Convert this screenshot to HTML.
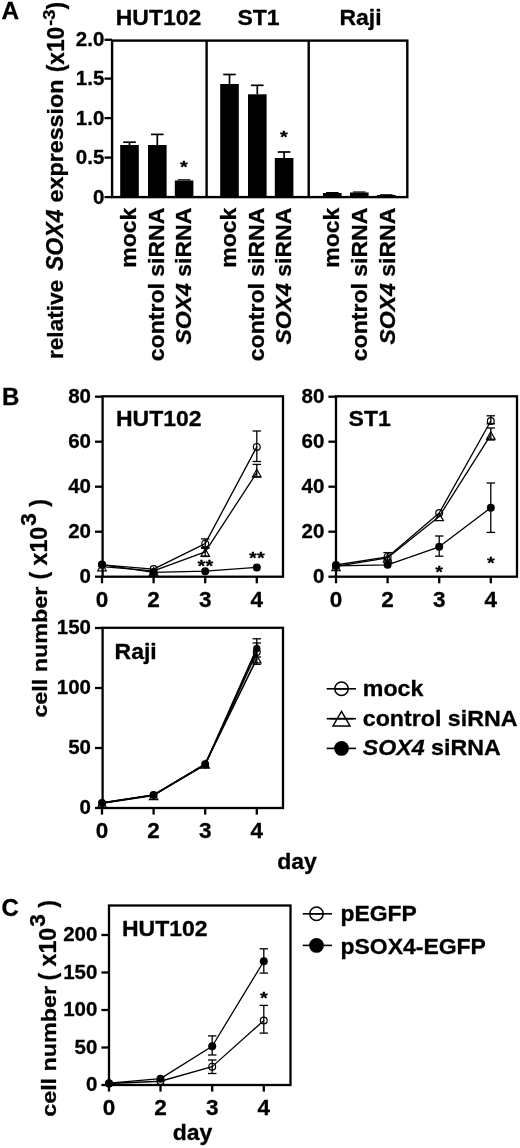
<!DOCTYPE html>
<html lang="en"><head><meta charset="utf-8"><title>Figure</title>
<style>html,body{margin:0;padding:0;background:#fff}svg{display:block;filter:blur(0.45px)}text{font-family:"Liberation Sans",Arial,Helvetica,sans-serif;font-weight:bold;fill:#000;stroke:#000;stroke-width:0.3px;stroke-linejoin:round}.it{font-style:italic}</style></head><body>
<svg width="520" height="1148" viewBox="0 0 520 1148">
<rect x="0" y="0" width="520" height="1148" fill="#fff"/>
<text x="1.5" y="19" font-size="24.3" text-anchor="start">A</text>
<text x="63.4" y="359" font-size="21.6" textLength="79.2" lengthAdjust="spacingAndGlyphs" transform="rotate(-90 63.4 359)">relative</text>
<text x="63.3" y="271.0" font-size="23" class="it" textLength="61.5" lengthAdjust="spacingAndGlyphs" transform="rotate(-90 63.3 271.0)">SOX4</text>
<text x="63.4" y="202.4" font-size="21.6" textLength="122.8" lengthAdjust="spacingAndGlyphs" transform="rotate(-90 63.4 202.4)">expression</text>
<text x="63.8" y="72.3" font-size="23" textLength="45.5" lengthAdjust="spacingAndGlyphs" transform="rotate(-90 63.8 72.3)">(x10</text>
<text x="55" y="25.8" font-size="16.6" textLength="16.3" lengthAdjust="spacingAndGlyphs" transform="rotate(-90 55 25.8)">-3</text>
<text x="63.8" y="9.6" font-size="23" textLength="7.6" lengthAdjust="spacingAndGlyphs" transform="rotate(-90 63.8 9.6)">)</text>
<rect x="112.1" y="40.6" width="295.20000000000005" height="156.5" fill="none" stroke="#000" stroke-width="2.4"/>
<line x1="206.6" y1="40.6" x2="206.6" y2="197.1" stroke="#000" stroke-width="2.4" stroke-linecap="butt"/>
<line x1="308.7" y1="40.6" x2="308.7" y2="197.1" stroke="#000" stroke-width="2.4" stroke-linecap="butt"/>
<line x1="104.5" y1="39.8" x2="112.1" y2="39.8" stroke="#000" stroke-width="2.3" stroke-linecap="butt"/>
<text x="104.3" y="45.89999999999999" font-size="20.5" text-anchor="end">2.0</text>
<line x1="104.5" y1="78.6" x2="112.1" y2="78.6" stroke="#000" stroke-width="2.3" stroke-linecap="butt"/>
<text x="104.3" y="85.39999999999999" font-size="20.5" text-anchor="end">1.5</text>
<line x1="104.5" y1="118.1" x2="112.1" y2="118.1" stroke="#000" stroke-width="2.3" stroke-linecap="butt"/>
<text x="104.3" y="124.89999999999999" font-size="20.5" text-anchor="end">1.0</text>
<line x1="104.5" y1="157.6" x2="112.1" y2="157.6" stroke="#000" stroke-width="2.3" stroke-linecap="butt"/>
<text x="104.3" y="164.4" font-size="20.5" text-anchor="end">0.5</text>
<line x1="104.5" y1="197.1" x2="112.1" y2="197.1" stroke="#000" stroke-width="2.3" stroke-linecap="butt"/>
<text x="104.3" y="203.9" font-size="20.5" text-anchor="end">0</text>
<text x="0" y="0" font-size="22.08" text-anchor="middle" transform="translate(158.5 25) scale(1.0417 1)">HUT102</text>
<text x="0" y="0" font-size="22.08" text-anchor="middle" transform="translate(258.5 25) scale(1.0417 1)">ST1</text>
<text x="0" y="0" font-size="22.08" text-anchor="middle" transform="translate(360.5 25) scale(1.0417 1)">Raji</text>
<rect x="120.2" y="145" width="18.6" height="52.099999999999994" fill="#000"/>
<line x1="129.5" y1="142.2" x2="129.5" y2="145" stroke="#000" stroke-width="1.7" stroke-linecap="butt"/>
<line x1="123.2" y1="142.2" x2="135.8" y2="142.2" stroke="#000" stroke-width="1.7" stroke-linecap="butt"/>
<rect x="148" y="145" width="18.6" height="52.099999999999994" fill="#000"/>
<line x1="157.3" y1="134.4" x2="157.3" y2="145" stroke="#000" stroke-width="1.7" stroke-linecap="butt"/>
<line x1="151.0" y1="134.4" x2="163.60000000000002" y2="134.4" stroke="#000" stroke-width="1.7" stroke-linecap="butt"/>
<rect x="174.8" y="180.5" width="18.6" height="16.599999999999994" fill="#000"/>
<line x1="177.8" y1="179.8" x2="190.40000000000003" y2="179.8" stroke="#000" stroke-width="1.2" stroke-linecap="butt"/>
<rect x="220.2" y="84" width="18.6" height="113.1" fill="#000"/>
<line x1="229.5" y1="74.5" x2="229.5" y2="84" stroke="#000" stroke-width="1.7" stroke-linecap="butt"/>
<line x1="223.2" y1="74.5" x2="235.8" y2="74.5" stroke="#000" stroke-width="1.7" stroke-linecap="butt"/>
<rect x="248" y="94.3" width="18.6" height="102.8" fill="#000"/>
<line x1="257.3" y1="85.3" x2="257.3" y2="94.3" stroke="#000" stroke-width="1.7" stroke-linecap="butt"/>
<line x1="251.0" y1="85.3" x2="263.6" y2="85.3" stroke="#000" stroke-width="1.7" stroke-linecap="butt"/>
<rect x="274.8" y="158" width="18.6" height="39.099999999999994" fill="#000"/>
<line x1="284.1" y1="152" x2="284.1" y2="158" stroke="#000" stroke-width="1.7" stroke-linecap="butt"/>
<line x1="277.8" y1="152" x2="290.40000000000003" y2="152" stroke="#000" stroke-width="1.7" stroke-linecap="butt"/>
<rect x="323" y="193" width="18.6" height="4.099999999999994" fill="#000"/>
<line x1="326.0" y1="192.6" x2="338.6" y2="192.6" stroke="#000" stroke-width="1.2" stroke-linecap="butt"/>
<rect x="350" y="192.5" width="18.6" height="4.599999999999994" fill="#000"/>
<line x1="353.0" y1="192" x2="365.6" y2="192" stroke="#000" stroke-width="1.2" stroke-linecap="butt"/>
<rect x="377" y="195" width="18.6" height="2.0999999999999943" fill="#000"/>
<line x1="380.0" y1="194.8" x2="392.6" y2="194.8" stroke="#000" stroke-width="1.2" stroke-linecap="butt"/>
<text x="0" y="10.3" font-size="20" text-anchor="middle" font-weight="normal" stroke="none" transform="translate(183.9 164.8) scale(1 0.84)">*</text>
<text x="0" y="10.3" font-size="20" text-anchor="middle" font-weight="normal" stroke="none" transform="translate(284 134.5) scale(1 0.84)">*</text>
<text x="0" y="0" font-size="21.67" text-anchor="end" transform="translate(135.8 207.6) rotate(-90) scale(1.0638 1)">mock</text>
<text x="0" y="0" font-size="21.67" text-anchor="end" transform="translate(163.8 207.6) rotate(-90) scale(1.0638 1)">control siRNA</text>
<text x="0" y="0" font-size="21.67" text-anchor="end" transform="translate(191.2 207.6) rotate(-90) scale(1.0638 1)"><tspan class="it">SOX4</tspan> siRNA</text>
<text x="0" y="0" font-size="21.67" text-anchor="end" transform="translate(235.8 207.6) rotate(-90) scale(1.0638 1)">mock</text>
<text x="0" y="0" font-size="21.67" text-anchor="end" transform="translate(263.8 207.6) rotate(-90) scale(1.0638 1)">control siRNA</text>
<text x="0" y="0" font-size="21.67" text-anchor="end" transform="translate(291.2 207.6) rotate(-90) scale(1.0638 1)"><tspan class="it">SOX4</tspan> siRNA</text>
<text x="0" y="0" font-size="21.67" text-anchor="end" transform="translate(339.2 207.6) rotate(-90) scale(1.0638 1)">mock</text>
<text x="0" y="0" font-size="21.67" text-anchor="end" transform="translate(367.2 207.6) rotate(-90) scale(1.0638 1)">control siRNA</text>
<text x="0" y="0" font-size="21.67" text-anchor="end" transform="translate(394.59999999999997 207.6) rotate(-90) scale(1.0638 1)"><tspan class="it">SOX4</tspan> siRNA</text>
<text x="2" y="405" font-size="24" text-anchor="start">B</text>
<text x="0" y="0" font-size="20.4" transform="translate(46.6 717.6) rotate(-90) scale(1.144 1)">cell number</text>
<text x="46.6" y="579.6" font-size="23.2" transform="rotate(-90 46.6 579.6)">( x10<tspan font-size="22.6" dy="-10.5" dx="0.9">3</tspan><tspan dy="10.5" dx="0.2"> )</tspan></text>
<rect x="102.6" y="396.3" width="180.4" height="180.40000000000003" fill="none" stroke="#000" stroke-width="2.3"/>
<line x1="95.0" y1="576.7" x2="102.6" y2="576.7" stroke="#000" stroke-width="2.3" stroke-linecap="butt"/>
<text x="91.0" y="583.1" font-size="20.5" text-anchor="end">0</text>
<line x1="95.0" y1="531.7" x2="102.6" y2="531.7" stroke="#000" stroke-width="2.3" stroke-linecap="butt"/>
<text x="91.0" y="538.1" font-size="20.5" text-anchor="end">20</text>
<line x1="95.0" y1="486.70000000000005" x2="102.6" y2="486.70000000000005" stroke="#000" stroke-width="2.3" stroke-linecap="butt"/>
<text x="91.0" y="493.1" font-size="20.5" text-anchor="end">40</text>
<line x1="95.0" y1="441.70000000000005" x2="102.6" y2="441.70000000000005" stroke="#000" stroke-width="2.3" stroke-linecap="butt"/>
<text x="91.0" y="448.1" font-size="20.5" text-anchor="end">60</text>
<line x1="95.0" y1="396.70000000000005" x2="102.6" y2="396.70000000000005" stroke="#000" stroke-width="2.3" stroke-linecap="butt"/>
<text x="91.0" y="403.1" font-size="20.5" text-anchor="end">80</text>
<line x1="102" y1="576.7" x2="102" y2="583.3000000000001" stroke="#000" stroke-width="2.3" stroke-linecap="butt"/>
<text x="102" y="606.9000000000001" font-size="22.5" text-anchor="middle">0</text>
<line x1="153.6" y1="576.7" x2="153.6" y2="583.3000000000001" stroke="#000" stroke-width="2.3" stroke-linecap="butt"/>
<text x="153.6" y="606.9000000000001" font-size="22.5" text-anchor="middle">2</text>
<line x1="205.2" y1="576.7" x2="205.2" y2="583.3000000000001" stroke="#000" stroke-width="2.3" stroke-linecap="butt"/>
<text x="205.2" y="606.9000000000001" font-size="22.5" text-anchor="middle">3</text>
<line x1="256.8" y1="576.7" x2="256.8" y2="583.3000000000001" stroke="#000" stroke-width="2.3" stroke-linecap="butt"/>
<text x="256.8" y="606.9000000000001" font-size="22.5" text-anchor="middle">4</text>
<text x="0" y="0" font-size="22.08" text-anchor="start" transform="translate(116 426) scale(1.0417 1)">HUT102</text>
<polyline points="102,564.7750000000001 153.6,569.0500000000001 205.2,543.625 256.8,446.875" fill="none" stroke="#000" stroke-width="1.3" stroke-linejoin="round"/>
<polyline points="102,566.575 153.6,570.85 205.2,551.95 256.8,472.52500000000003" fill="none" stroke="#000" stroke-width="1.3" stroke-linejoin="round"/>
<polyline points="102,564.5500000000001 153.6,572.4250000000001 205.2,571.1875 256.8,567.475" fill="none" stroke="#000" stroke-width="1.3" stroke-linejoin="round"/>
<line x1="256.8" y1="431" x2="256.8" y2="461.5" stroke="#000" stroke-width="1.3" stroke-linecap="butt"/>
<line x1="252.55" y1="431" x2="261.05" y2="431" stroke="#000" stroke-width="1.3" stroke-linecap="butt"/>
<line x1="252.55" y1="461.5" x2="261.05" y2="461.5" stroke="#000" stroke-width="1.3" stroke-linecap="butt"/>
<line x1="256.8" y1="464.4" x2="256.8" y2="477" stroke="#000" stroke-width="1.3" stroke-linecap="butt"/>
<line x1="252.55" y1="464.4" x2="261.05" y2="464.4" stroke="#000" stroke-width="1.3" stroke-linecap="butt"/>
<line x1="252.55" y1="477" x2="261.05" y2="477" stroke="#000" stroke-width="1.3" stroke-linecap="butt"/>
<line x1="205.2" y1="538.9000000000001" x2="205.2" y2="548.35" stroke="#000" stroke-width="1.3" stroke-linecap="butt"/>
<line x1="200.95" y1="538.9000000000001" x2="209.45" y2="538.9000000000001" stroke="#000" stroke-width="1.3" stroke-linecap="butt"/>
<line x1="200.95" y1="548.35" x2="209.45" y2="548.35" stroke="#000" stroke-width="1.3" stroke-linecap="butt"/>
<line x1="205.2" y1="547.45" x2="205.2" y2="556.45" stroke="#000" stroke-width="1.3" stroke-linecap="butt"/>
<line x1="200.95" y1="547.45" x2="209.45" y2="547.45" stroke="#000" stroke-width="1.3" stroke-linecap="butt"/>
<line x1="200.95" y1="556.45" x2="209.45" y2="556.45" stroke="#000" stroke-width="1.3" stroke-linecap="butt"/>
<polygon points="102,563.325 106.25,570.825 97.75,570.825" fill="none" stroke="#000" stroke-width="1.2" stroke-linejoin="miter"/>
<polygon points="153.6,567.6 157.85,575.1 149.35,575.1" fill="none" stroke="#000" stroke-width="1.2" stroke-linejoin="miter"/>
<polygon points="205.2,548.7 209.45,556.2 200.95,556.2" fill="none" stroke="#000" stroke-width="1.2" stroke-linejoin="miter"/>
<polygon points="256.8,469.27500000000003 261.05,476.77500000000003 252.55,476.77500000000003" fill="none" stroke="#000" stroke-width="1.2" stroke-linejoin="miter"/>
<circle cx="102" cy="564.7750000000001" r="3.4" fill="none" stroke="#000" stroke-width="1.2"/>
<circle cx="153.6" cy="569.0500000000001" r="3.4" fill="none" stroke="#000" stroke-width="1.2"/>
<circle cx="205.2" cy="543.625" r="3.4" fill="none" stroke="#000" stroke-width="1.2"/>
<circle cx="256.8" cy="446.875" r="3.4" fill="none" stroke="#000" stroke-width="1.2"/>
<circle cx="102" cy="564.5500000000001" r="4.0" fill="#000"/>
<circle cx="153.6" cy="572.4250000000001" r="4.0" fill="#000"/>
<circle cx="205.2" cy="571.1875" r="4.0" fill="#000"/>
<circle cx="256.8" cy="567.475" r="4.0" fill="#000"/>
<text x="0" y="10.3" font-size="20" text-anchor="middle" font-weight="normal" stroke="none" transform="translate(205.4 563.4) scale(1 0.84)">**</text>
<text x="0" y="10.3" font-size="20" text-anchor="middle" font-weight="normal" stroke="none" transform="translate(256.9 555) scale(1 0.84)">**</text>
<rect x="336" y="396.3" width="181" height="180.40000000000003" fill="none" stroke="#000" stroke-width="2.3"/>
<line x1="328.4" y1="576.7" x2="336" y2="576.7" stroke="#000" stroke-width="2.3" stroke-linecap="butt"/>
<text x="324.4" y="583.1" font-size="20.5" text-anchor="end">0</text>
<line x1="328.4" y1="531.7" x2="336" y2="531.7" stroke="#000" stroke-width="2.3" stroke-linecap="butt"/>
<text x="324.4" y="538.1" font-size="20.5" text-anchor="end">20</text>
<line x1="328.4" y1="486.70000000000005" x2="336" y2="486.70000000000005" stroke="#000" stroke-width="2.3" stroke-linecap="butt"/>
<text x="324.4" y="493.1" font-size="20.5" text-anchor="end">40</text>
<line x1="328.4" y1="441.70000000000005" x2="336" y2="441.70000000000005" stroke="#000" stroke-width="2.3" stroke-linecap="butt"/>
<text x="324.4" y="448.1" font-size="20.5" text-anchor="end">60</text>
<line x1="328.4" y1="396.70000000000005" x2="336" y2="396.70000000000005" stroke="#000" stroke-width="2.3" stroke-linecap="butt"/>
<text x="324.4" y="403.1" font-size="20.5" text-anchor="end">80</text>
<line x1="336" y1="576.7" x2="336" y2="583.3000000000001" stroke="#000" stroke-width="2.3" stroke-linecap="butt"/>
<text x="336" y="606.9000000000001" font-size="22.5" text-anchor="middle">0</text>
<line x1="387.6" y1="576.7" x2="387.6" y2="583.3000000000001" stroke="#000" stroke-width="2.3" stroke-linecap="butt"/>
<text x="387.6" y="606.9000000000001" font-size="22.5" text-anchor="middle">2</text>
<line x1="439.2" y1="576.7" x2="439.2" y2="583.3000000000001" stroke="#000" stroke-width="2.3" stroke-linecap="butt"/>
<text x="439.2" y="606.9000000000001" font-size="22.5" text-anchor="middle">3</text>
<line x1="490.8" y1="576.7" x2="490.8" y2="583.3000000000001" stroke="#000" stroke-width="2.3" stroke-linecap="butt"/>
<text x="490.8" y="606.9000000000001" font-size="22.5" text-anchor="middle">4</text>
<text x="0" y="0" font-size="22.08" text-anchor="start" transform="translate(348.6 426) scale(1.0417 1)">ST1</text>
<polyline points="336,565.0 387.6,556.9000000000001 439.2,513.0250000000001 490.8,421.0" fill="none" stroke="#000" stroke-width="1.3" stroke-linejoin="round"/>
<polyline points="336,566.35 387.6,557.8000000000001 439.2,516.4000000000001 490.8,434.95000000000005" fill="none" stroke="#000" stroke-width="1.3" stroke-linejoin="round"/>
<polyline points="336,565.9000000000001 387.6,564.7750000000001 439.2,546.7750000000001 490.8,507.85" fill="none" stroke="#000" stroke-width="1.3" stroke-linejoin="round"/>
<line x1="490.8" y1="415.8" x2="490.8" y2="423.8" stroke="#000" stroke-width="1.3" stroke-linecap="butt"/>
<line x1="486.55" y1="415.8" x2="495.05" y2="415.8" stroke="#000" stroke-width="1.3" stroke-linecap="butt"/>
<line x1="486.55" y1="423.8" x2="495.05" y2="423.8" stroke="#000" stroke-width="1.3" stroke-linecap="butt"/>
<line x1="490.8" y1="428" x2="490.8" y2="440" stroke="#000" stroke-width="1.3" stroke-linecap="butt"/>
<line x1="486.55" y1="428" x2="495.05" y2="428" stroke="#000" stroke-width="1.3" stroke-linecap="butt"/>
<line x1="486.55" y1="440" x2="495.05" y2="440" stroke="#000" stroke-width="1.3" stroke-linecap="butt"/>
<line x1="490.8" y1="483" x2="490.8" y2="532.4" stroke="#000" stroke-width="1.3" stroke-linecap="butt"/>
<line x1="486.55" y1="483" x2="495.05" y2="483" stroke="#000" stroke-width="1.3" stroke-linecap="butt"/>
<line x1="486.55" y1="532.4" x2="495.05" y2="532.4" stroke="#000" stroke-width="1.3" stroke-linecap="butt"/>
<line x1="439.2" y1="536" x2="439.2" y2="556.2" stroke="#000" stroke-width="1.3" stroke-linecap="butt"/>
<line x1="434.95" y1="536" x2="443.45" y2="536" stroke="#000" stroke-width="1.3" stroke-linecap="butt"/>
<line x1="434.95" y1="556.2" x2="443.45" y2="556.2" stroke="#000" stroke-width="1.3" stroke-linecap="butt"/>
<line x1="387.6" y1="552.6" x2="387.6" y2="560" stroke="#000" stroke-width="1.3" stroke-linecap="butt"/>
<line x1="383.35" y1="552.6" x2="391.85" y2="552.6" stroke="#000" stroke-width="1.3" stroke-linecap="butt"/>
<line x1="383.35" y1="560" x2="391.85" y2="560" stroke="#000" stroke-width="1.3" stroke-linecap="butt"/>
<polygon points="336,563.1 340.25,570.6 331.75,570.6" fill="none" stroke="#000" stroke-width="1.2" stroke-linejoin="miter"/>
<polygon points="387.6,554.5500000000001 391.85,562.0500000000001 383.35,562.0500000000001" fill="none" stroke="#000" stroke-width="1.2" stroke-linejoin="miter"/>
<polygon points="439.2,513.1500000000001 443.45,520.6500000000001 434.95,520.6500000000001" fill="none" stroke="#000" stroke-width="1.2" stroke-linejoin="miter"/>
<polygon points="490.8,431.70000000000005 495.05,439.20000000000005 486.55,439.20000000000005" fill="none" stroke="#000" stroke-width="1.2" stroke-linejoin="miter"/>
<circle cx="336" cy="565.0" r="3.4" fill="none" stroke="#000" stroke-width="1.2"/>
<circle cx="387.6" cy="556.9000000000001" r="3.4" fill="none" stroke="#000" stroke-width="1.2"/>
<circle cx="439.2" cy="513.0250000000001" r="3.4" fill="none" stroke="#000" stroke-width="1.2"/>
<circle cx="490.8" cy="421.0" r="3.4" fill="none" stroke="#000" stroke-width="1.2"/>
<circle cx="336" cy="565.9000000000001" r="4.0" fill="#000"/>
<circle cx="387.6" cy="564.7750000000001" r="4.0" fill="#000"/>
<circle cx="439.2" cy="546.7750000000001" r="4.0" fill="#000"/>
<circle cx="490.8" cy="507.85" r="4.0" fill="#000"/>
<text x="0" y="10.3" font-size="20" text-anchor="middle" font-weight="normal" stroke="none" transform="translate(439.2 569.4) scale(1 0.84)">*</text>
<text x="0" y="10.3" font-size="20" text-anchor="middle" font-weight="normal" stroke="none" transform="translate(490.8 560.4) scale(1 0.84)">*</text>
<rect x="102.6" y="627.8" width="180.4" height="180.20000000000005" fill="none" stroke="#000" stroke-width="2.3"/>
<line x1="95.0" y1="808.0" x2="102.6" y2="808.0" stroke="#000" stroke-width="2.3" stroke-linecap="butt"/>
<text x="91.0" y="814.4" font-size="20.5" text-anchor="end">0</text>
<line x1="95.0" y1="748.0" x2="102.6" y2="748.0" stroke="#000" stroke-width="2.3" stroke-linecap="butt"/>
<text x="91.0" y="754.4" font-size="20.5" text-anchor="end">50</text>
<line x1="95.0" y1="688.0" x2="102.6" y2="688.0" stroke="#000" stroke-width="2.3" stroke-linecap="butt"/>
<text x="91.0" y="694.4" font-size="20.5" text-anchor="end">100</text>
<line x1="95.0" y1="628.0" x2="102.6" y2="628.0" stroke="#000" stroke-width="2.3" stroke-linecap="butt"/>
<text x="91.0" y="634.4" font-size="20.5" text-anchor="end">150</text>
<line x1="102" y1="808" x2="102" y2="814.6" stroke="#000" stroke-width="2.3" stroke-linecap="butt"/>
<text x="102" y="838.2" font-size="22.5" text-anchor="middle">0</text>
<line x1="153.6" y1="808" x2="153.6" y2="814.6" stroke="#000" stroke-width="2.3" stroke-linecap="butt"/>
<text x="153.6" y="838.2" font-size="22.5" text-anchor="middle">2</text>
<line x1="205.2" y1="808" x2="205.2" y2="814.6" stroke="#000" stroke-width="2.3" stroke-linecap="butt"/>
<text x="205.2" y="838.2" font-size="22.5" text-anchor="middle">3</text>
<line x1="256.8" y1="808" x2="256.8" y2="814.6" stroke="#000" stroke-width="2.3" stroke-linecap="butt"/>
<text x="256.8" y="838.2" font-size="22.5" text-anchor="middle">4</text>
<text x="0" y="0" font-size="22.08" text-anchor="start" transform="translate(114.6 658.5) scale(1.0417 1)">Raji</text>
<polyline points="102,802.96 153.6,795.04 205.2,764.32 256.8,652.0" fill="none" stroke="#000" stroke-width="1.6" stroke-linejoin="round"/>
<polyline points="102,803.2 153.6,795.4 205.2,763.84 256.8,658.6" fill="none" stroke="#000" stroke-width="1.6" stroke-linejoin="round"/>
<polyline points="102,802.84 153.6,794.92 205.2,764.8 256.8,648.4" fill="none" stroke="#000" stroke-width="1.6" stroke-linejoin="round"/>
<line x1="256.8" y1="638.8" x2="256.8" y2="657" stroke="#000" stroke-width="1.3" stroke-linecap="butt"/>
<line x1="252.55" y1="638.8" x2="261.05" y2="638.8" stroke="#000" stroke-width="1.3" stroke-linecap="butt"/>
<line x1="252.55" y1="657" x2="261.05" y2="657" stroke="#000" stroke-width="1.3" stroke-linecap="butt"/>
<line x1="256.8" y1="643" x2="256.8" y2="664.3" stroke="#000" stroke-width="1.3" stroke-linecap="butt"/>
<line x1="252.55" y1="643" x2="261.05" y2="643" stroke="#000" stroke-width="1.3" stroke-linecap="butt"/>
<line x1="252.55" y1="664.3" x2="261.05" y2="664.3" stroke="#000" stroke-width="1.3" stroke-linecap="butt"/>
<polygon points="102,799.95 106.25,807.45 97.75,807.45" fill="none" stroke="#000" stroke-width="1.2" stroke-linejoin="miter"/>
<polygon points="153.6,792.15 157.85,799.65 149.35,799.65" fill="none" stroke="#000" stroke-width="1.2" stroke-linejoin="miter"/>
<polygon points="205.2,760.59 209.45,768.09 200.95,768.09" fill="none" stroke="#000" stroke-width="1.2" stroke-linejoin="miter"/>
<polygon points="256.8,655.35 261.05,662.85 252.55,662.85" fill="none" stroke="#000" stroke-width="1.2" stroke-linejoin="miter"/>
<circle cx="102" cy="802.96" r="3.4" fill="none" stroke="#000" stroke-width="1.2"/>
<circle cx="153.6" cy="795.04" r="3.4" fill="none" stroke="#000" stroke-width="1.2"/>
<circle cx="205.2" cy="764.32" r="3.4" fill="none" stroke="#000" stroke-width="1.2"/>
<circle cx="256.8" cy="652.0" r="3.4" fill="none" stroke="#000" stroke-width="1.2"/>
<circle cx="102" cy="802.84" r="3.6" fill="#000"/>
<circle cx="153.6" cy="794.92" r="3.6" fill="#000"/>
<circle cx="205.2" cy="764.8" r="3.6" fill="#000"/>
<circle cx="256.8" cy="648.4" r="3.6" fill="#000"/>
<text x="0" y="0" font-size="21.62" text-anchor="middle" transform="translate(297 868.8) scale(1.0638 1)">day</text>
<line x1="326.7" y1="688.8" x2="356" y2="688.8" stroke="#000" stroke-width="1.6" stroke-linecap="butt"/>
<line x1="326.7" y1="718.7" x2="356" y2="718.7" stroke="#000" stroke-width="1.6" stroke-linecap="butt"/>
<line x1="326.7" y1="748.4" x2="356" y2="748.4" stroke="#000" stroke-width="1.6" stroke-linecap="butt"/>
<circle cx="341.5" cy="688.8" r="6.7" fill="none" stroke="#000" stroke-width="1.5"/>
<line x1="334" y1="688.8" x2="349" y2="688.8" stroke="#000" stroke-width="1.6" stroke-linecap="butt"/>
<polygon points="341.5,711.45 350.0,725.95 333.0,725.95" fill="none" stroke="#000" stroke-width="1.5" stroke-linejoin="miter"/>
<line x1="330" y1="718.7" x2="353" y2="718.7" stroke="#000" stroke-width="1.6" stroke-linecap="butt"/>
<circle cx="341.5" cy="748.4" r="7.4" fill="#000"/>
<text x="0" y="0" font-size="21.58" text-anchor="start" transform="translate(362.8 696) scale(1.0753 1)">mock</text>
<text x="0" y="0" font-size="21.58" text-anchor="start" transform="translate(362.8 726) scale(1.0753 1)">control siRNA</text>
<text x="0" y="0" font-size="21.58" text-anchor="start" transform="translate(362.8 754.8) scale(1.0753 1)"><tspan class="it">SOX4</tspan> siRNA</text>
<text x="1.5" y="916" font-size="24" text-anchor="start">C</text>
<text x="0" y="0" font-size="20.4" transform="translate(56.0 1116.8) rotate(-90) scale(1.144 1)">cell number</text>
<text x="56.0" y="980.6" font-size="23.2" transform="rotate(-90 56.0 980.6)">( x10<tspan font-size="22.6" dy="-10.5" dx="0.9">3</tspan><tspan dy="10.5" dx="0.2"> )</tspan></text>
<rect x="109" y="905.5" width="181.5" height="179.5" fill="none" stroke="#000" stroke-width="2.3"/>
<line x1="101.4" y1="1085.0" x2="109" y2="1085.0" stroke="#000" stroke-width="2.3" stroke-linecap="butt"/>
<text x="97.4" y="1091.4" font-size="20.5" text-anchor="end">0</text>
<line x1="101.4" y1="1047.5" x2="109" y2="1047.5" stroke="#000" stroke-width="2.3" stroke-linecap="butt"/>
<text x="97.4" y="1053.9" font-size="20.5" text-anchor="end">50</text>
<line x1="101.4" y1="1010.0" x2="109" y2="1010.0" stroke="#000" stroke-width="2.3" stroke-linecap="butt"/>
<text x="97.4" y="1016.4" font-size="20.5" text-anchor="end">100</text>
<line x1="101.4" y1="972.5" x2="109" y2="972.5" stroke="#000" stroke-width="2.3" stroke-linecap="butt"/>
<text x="97.4" y="978.9" font-size="20.5" text-anchor="end">150</text>
<line x1="101.4" y1="935.0" x2="109" y2="935.0" stroke="#000" stroke-width="2.3" stroke-linecap="butt"/>
<text x="97.4" y="941.4" font-size="20.5" text-anchor="end">200</text>
<line x1="109" y1="1085" x2="109" y2="1091.6" stroke="#000" stroke-width="2.3" stroke-linecap="butt"/>
<text x="109" y="1115.2" font-size="22.5" text-anchor="middle">0</text>
<line x1="160.5" y1="1085" x2="160.5" y2="1091.6" stroke="#000" stroke-width="2.3" stroke-linecap="butt"/>
<text x="160.5" y="1115.2" font-size="22.5" text-anchor="middle">2</text>
<line x1="212.2" y1="1085" x2="212.2" y2="1091.6" stroke="#000" stroke-width="2.3" stroke-linecap="butt"/>
<text x="212.2" y="1115.2" font-size="22.5" text-anchor="middle">3</text>
<line x1="263.8" y1="1085" x2="263.8" y2="1091.6" stroke="#000" stroke-width="2.3" stroke-linecap="butt"/>
<text x="263.8" y="1115.2" font-size="22.5" text-anchor="middle">4</text>
<text x="0" y="0" font-size="22.08" text-anchor="start" transform="translate(122 936) scale(1.0417 1)">HUT102</text>
<polyline points="109,1083.5 160.5,1081.25 212.2,1066.625 263.8,1020.5" fill="none" stroke="#000" stroke-width="1.3" stroke-linejoin="round"/>
<polyline points="109,1083.125 160.5,1078.625 212.2,1046.225 263.8,961.25" fill="none" stroke="#000" stroke-width="1.3" stroke-linejoin="round"/>
<line x1="263.8" y1="948.8" x2="263.8" y2="973.1" stroke="#000" stroke-width="1.3" stroke-linecap="butt"/>
<line x1="259.55" y1="948.8" x2="268.05" y2="948.8" stroke="#000" stroke-width="1.3" stroke-linecap="butt"/>
<line x1="259.55" y1="973.1" x2="268.05" y2="973.1" stroke="#000" stroke-width="1.3" stroke-linecap="butt"/>
<line x1="263.8" y1="1005.4" x2="263.8" y2="1033.1" stroke="#000" stroke-width="1.3" stroke-linecap="butt"/>
<line x1="259.55" y1="1005.4" x2="268.05" y2="1005.4" stroke="#000" stroke-width="1.3" stroke-linecap="butt"/>
<line x1="259.55" y1="1033.1" x2="268.05" y2="1033.1" stroke="#000" stroke-width="1.3" stroke-linecap="butt"/>
<line x1="212.2" y1="1035.9" x2="212.2" y2="1055" stroke="#000" stroke-width="1.3" stroke-linecap="butt"/>
<line x1="207.95" y1="1035.9" x2="216.45" y2="1035.9" stroke="#000" stroke-width="1.3" stroke-linecap="butt"/>
<line x1="207.95" y1="1055" x2="216.45" y2="1055" stroke="#000" stroke-width="1.3" stroke-linecap="butt"/>
<line x1="212.2" y1="1060" x2="212.2" y2="1073.5" stroke="#000" stroke-width="1.3" stroke-linecap="butt"/>
<line x1="207.95" y1="1060" x2="216.45" y2="1060" stroke="#000" stroke-width="1.3" stroke-linecap="butt"/>
<line x1="207.95" y1="1073.5" x2="216.45" y2="1073.5" stroke="#000" stroke-width="1.3" stroke-linecap="butt"/>
<circle cx="109" cy="1083.5" r="3.4" fill="none" stroke="#000" stroke-width="1.2"/>
<circle cx="160.5" cy="1081.25" r="3.4" fill="none" stroke="#000" stroke-width="1.2"/>
<circle cx="212.2" cy="1066.625" r="3.4" fill="none" stroke="#000" stroke-width="1.2"/>
<circle cx="263.8" cy="1020.5" r="3.4" fill="none" stroke="#000" stroke-width="1.2"/>
<circle cx="109" cy="1083.125" r="4.0" fill="#000"/>
<circle cx="160.5" cy="1078.625" r="4.0" fill="#000"/>
<circle cx="212.2" cy="1046.225" r="4.0" fill="#000"/>
<circle cx="263.8" cy="961.25" r="4.0" fill="#000"/>
<text x="0" y="10.3" font-size="20" text-anchor="middle" font-weight="normal" stroke="none" transform="translate(263.8 995.3) scale(1 0.84)">*</text>
<text x="0" y="0" font-size="21.62" text-anchor="middle" transform="translate(192.5 1139.5) scale(1.0638 1)">day</text>
<line x1="302.7" y1="913.8" x2="332" y2="913.8" stroke="#000" stroke-width="1.6" stroke-linecap="butt"/>
<line x1="302.7" y1="945.4" x2="332" y2="945.4" stroke="#000" stroke-width="1.6" stroke-linecap="butt"/>
<circle cx="316.5" cy="913.8" r="6.7" fill="none" stroke="#000" stroke-width="1.5"/>
<line x1="309" y1="913.8" x2="324" y2="913.8" stroke="#000" stroke-width="1.6" stroke-linecap="butt"/>
<circle cx="316.5" cy="945.4" r="7.4" fill="#000"/>
<text x="0" y="0" font-size="21.3" text-anchor="start" transform="translate(340.4 921.3) scale(1.0753 1)">pEGFP</text>
<text x="0" y="0" font-size="21.39" text-anchor="start" transform="translate(340.4 953.5) scale(1.0753 1)">pSOX4-EGFP</text>
</svg></body></html>
